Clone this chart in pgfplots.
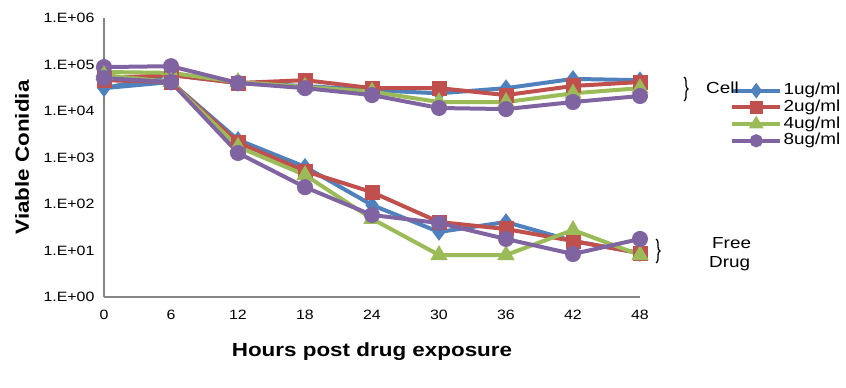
\documentclass[border=0pt]{standalone}
\usepackage{pgfplots}
\pgfplotsset{compat=1.18}
\usepackage{fontspec}
\setmainfont{Liberation Sans}[FakeStretch=1.18]
\usetikzlibrary{decorations.pathreplacing}
\definecolor{c1}{HTML}{4F81BD}
\definecolor{c2}{HTML}{C0504D}
\definecolor{c3}{HTML}{9BBB59}
\definecolor{c4}{HTML}{8064A2}
\definecolor{axgray}{HTML}{868686}
\begin{document}
\begin{tikzpicture}[x=1pt,y=1pt]
\path[use as bounding box] (0,0) rectangle (846,388);
\begin{axis}[
  at={(104pt,91pt)}, anchor=south west,
  scale only axis, width=536pt, height=279pt,
  xmin=0, xmax=48, ymode=log, ymin=1, ymax=1e6,
  clip=false,
  axis x line*=bottom, axis y line*=left,
  axis line style={axgray, line width=1.6pt, -},
  xtick={0,6,12,18,24,30,36,42,48},
  ytick={1,10,100,1000,10000,100000,1000000},
  yticklabels={1.E+00,1.E+01,1.E+02,1.E+03,1.E+04,1.E+05,1.E+06},
  major tick length=0pt, minor tick length=0pt,
  /pgf/number format/assume math mode=true,
  tick label style={font=\fontsize{13.5}{15}\selectfont, black},
  xticklabel style={yshift=-10pt},
  yticklabel style={xshift=-6pt},
  xlabel={Hours post drug exposure},
  ylabel={Viable Conidia},
  label style={font=\bfseries\fontsize{19}{22}\selectfont},
  xlabel style={at={(axis description cs:0.5,-0.197)}, anchor=center},
  ylabel style={at={(axis description cs:-0.153,0.5)}, anchor=center},
  every axis plot/.append style={line width=4pt, mark options={solid}},
  legend style={at={(axis description cs:1.168,0.767)}, anchor=north west,
    draw=none, fill=none, font=\fontsize{16}{18}\selectfont,
    row sep=1.7pt, column sep=1pt, inner sep=0pt,
    nodes={inner sep=0.5pt, text height=11pt, text depth=3pt}},
  legend cell align=left,
  legend image code/.code={\draw[mark repeat=2,mark phase=2,#1, mark size=4.5pt] plot coordinates {(0pt,0pt) (24pt,0pt) (48pt,0pt)};},
]
% Cell group
\addplot[c1, mark=diamond*, mark size=5.5pt] coordinates {(0,3.1e4)(6,6.0e4)(12,4.0e4)(18,3.45e4)(24,2.8e4)(30,2.4e4)(36,3.1e4)(42,4.9e4)(48,4.6e4)};
\addlegendentry{1ug/ml}
\addplot[c2, mark=square*, mark size=5.5pt] coordinates {(0,5.1e4)(6,5.9e4)(12,4.0e4)(18,4.6e4)(24,3.1e4)(30,3.1e4)(36,2.2e4)(42,3.45e4)(48,4.2e4)};
\addlegendentry{2ug/ml}
\addplot[c3, mark=triangle*, mark size=6pt] coordinates {(0,6.9e4)(6,6.6e4)(12,4.2e4)(18,3.3e4)(24,2.6e4)(30,1.56e4)(36,1.56e4)(42,2.4e4)(48,3.1e4)};
\addlegendentry{4ug/ml}
\addplot[c4, mark=*, mark size=6pt] coordinates {(0,8.8e4)(6,9.2e4)(12,4.0e4)(18,3.1e4)(24,2.2e4)(30,1.16e4)(36,1.1e4)(42,1.56e4)(48,2.1e4)};
\addlegendentry{8ug/ml}
% Free drug group
\addplot[c1, mark=diamond*, mark size=5.5pt, forget plot] coordinates {(0,3.1e4)(6,4.2e4)(12,2.4e3)(18,630)(24,95)(30,25)(36,41)(42,16)(48,8.8)};
\addplot[c2, mark=square*, mark size=5.5pt, forget plot] coordinates {(0,4.6e4)(6,4.2e4)(12,2.1e3)(18,510)(24,180)(30,41)(36,29)(42,16)(48,8.8)};
\addplot[c3, mark=triangle*, mark size=6pt, forget plot] coordinates {(0,5.9e4)(6,4.2e4)(12,1.7e3)(18,420)(24,48)(30,8)(36,8)(42,27.6)(48,8)};
\addplot[c4, mark=*, mark size=6pt, forget plot] coordinates {(0,5.1e4)(6,4.2e4)(12,1.25e3)(18,230)(24,58)(30,39)(36,17.7)(42,8.4)(48,17.7)};
\end{axis}
\draw[line width=1.3pt, decorate, decoration={brace, amplitude=4pt}] (684,311) -- (684,287);
\node[anchor=west, font=\fontsize{16}{18}\selectfont, inner sep=0pt] at (706,300) {Cell};
\draw[line width=1.3pt, decorate, decoration={brace, amplitude=4pt}] (656,149) -- (656,125);
\node[anchor=west, font=\fontsize{16}{18}\selectfont, inner sep=0pt] at (712,145) {Free};
\node[anchor=west, font=\fontsize{16}{18}\selectfont, inner sep=0pt] at (709,124) {Drug};
\end{tikzpicture}
\end{document}
